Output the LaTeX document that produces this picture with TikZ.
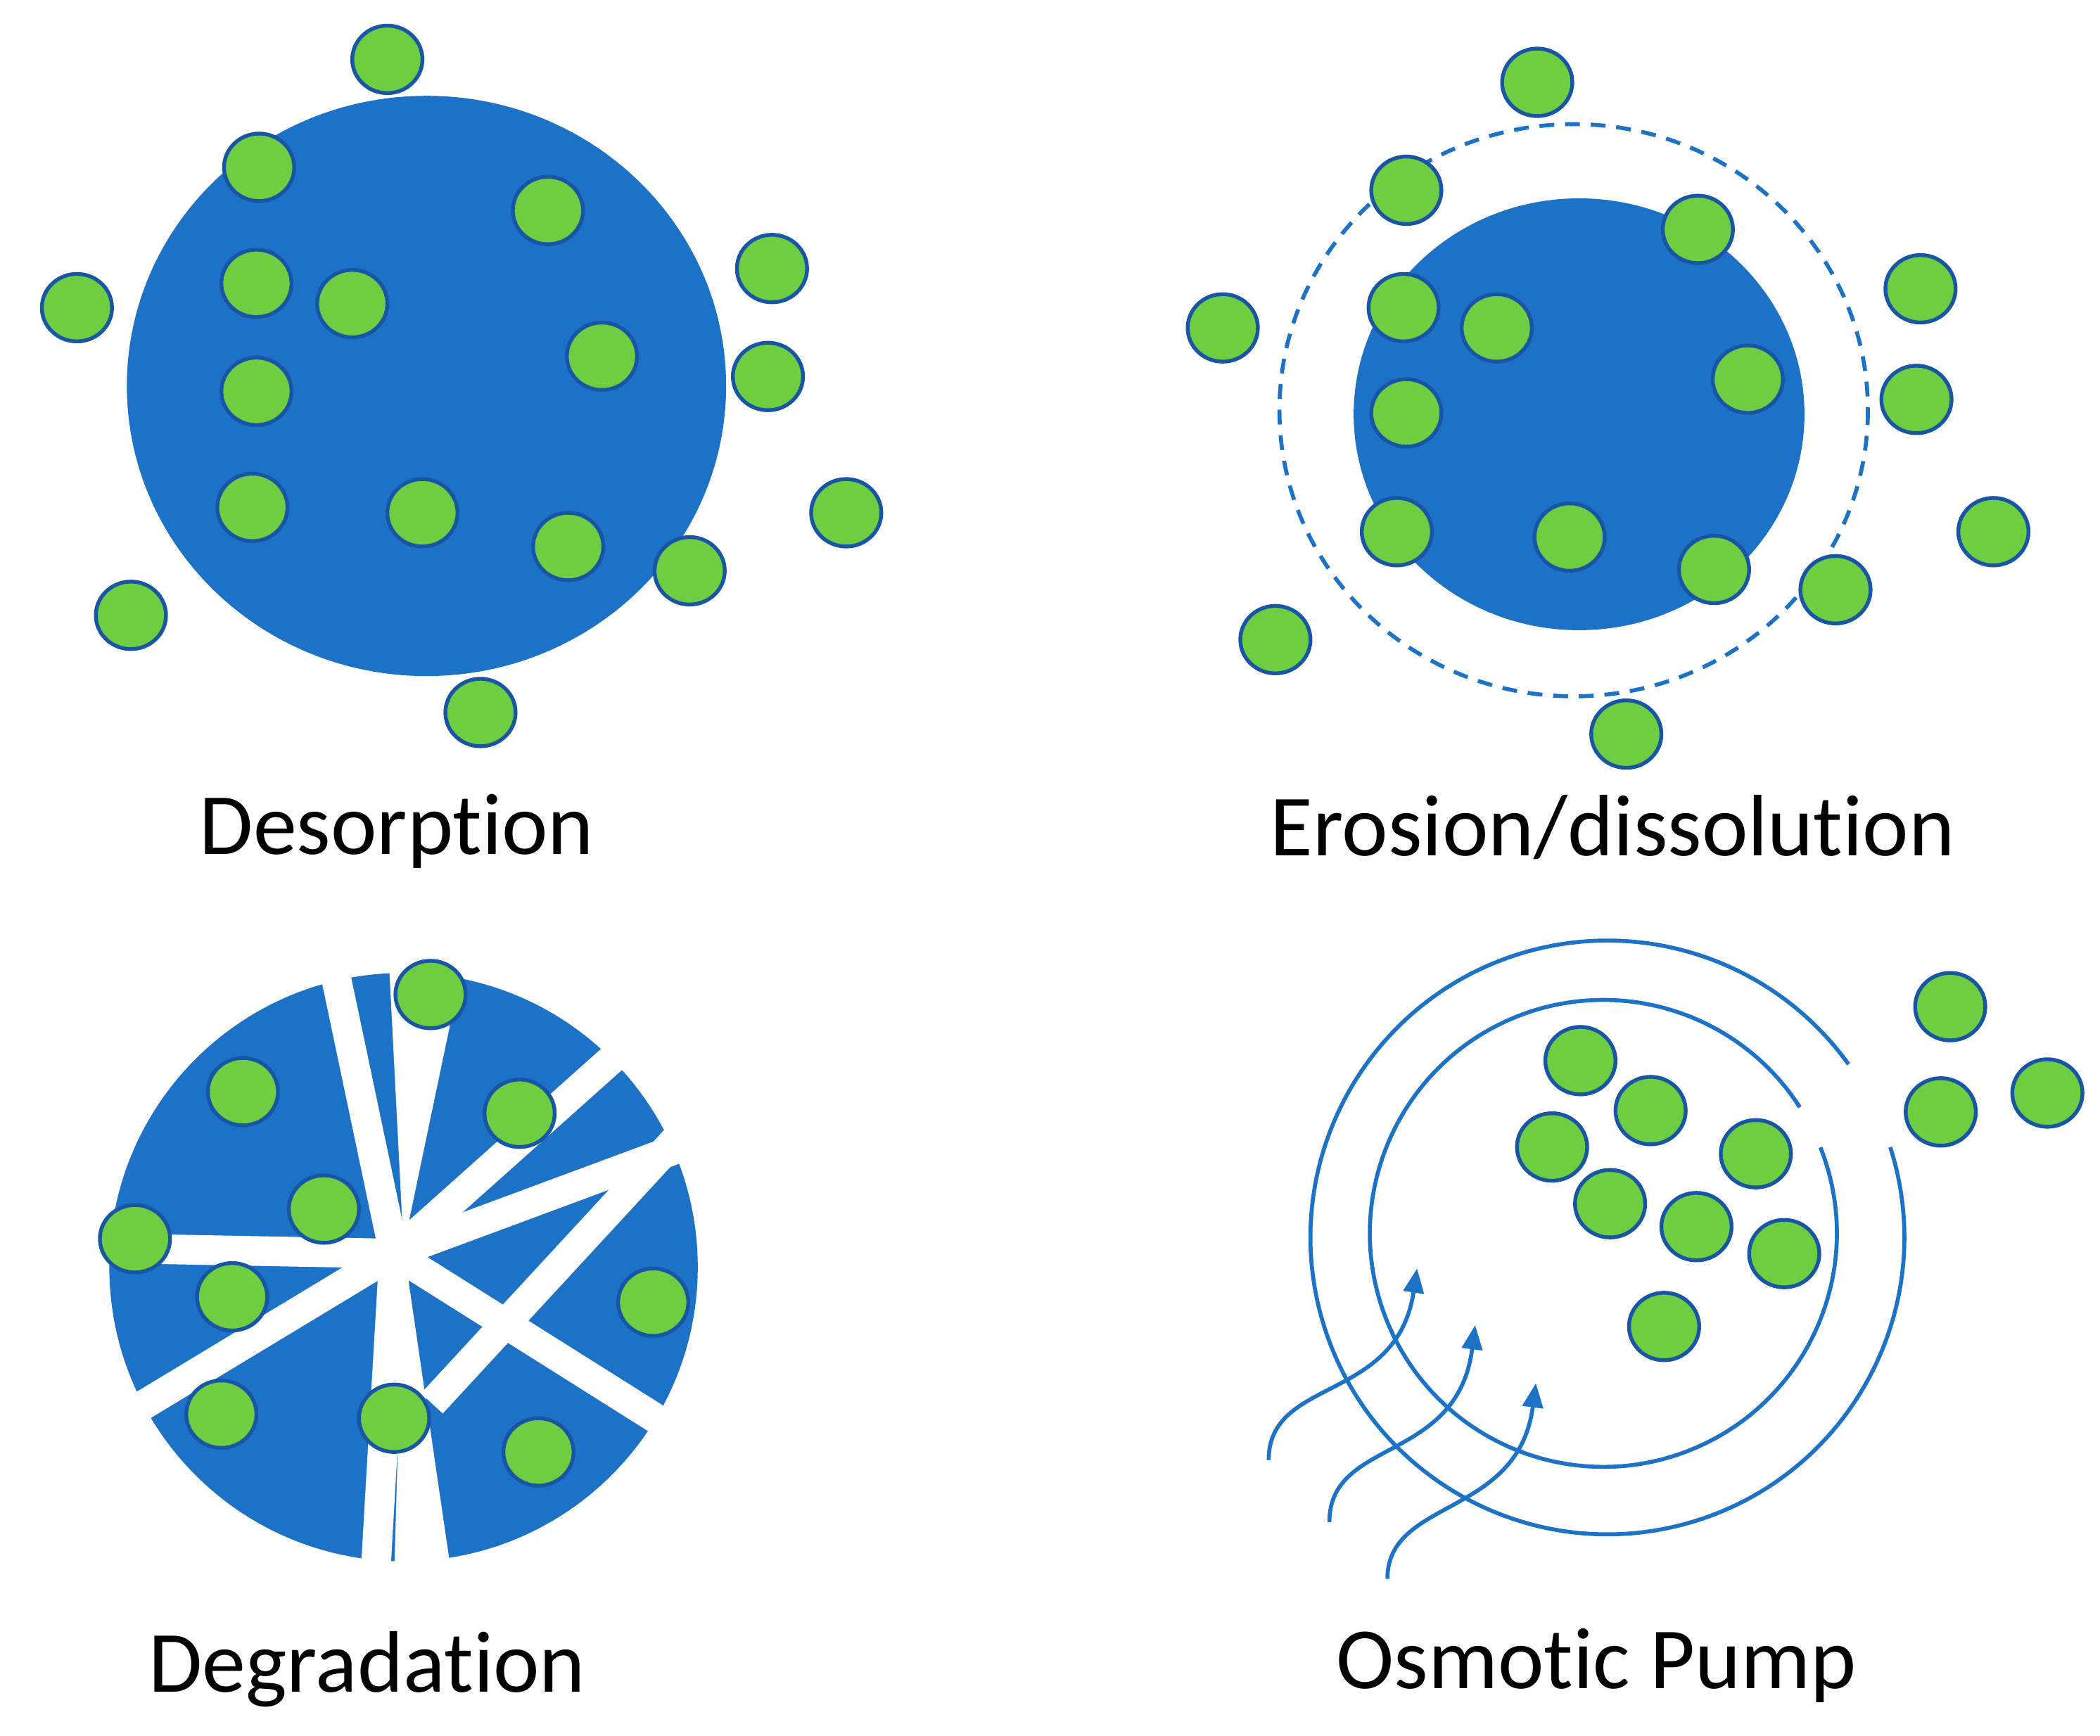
\documentclass[tikz,border=0pt]{standalone}
\usepackage{fontspec}
\setmainfont{Carlito}[Ligatures=NoCommon]
\usetikzlibrary{arrows.meta}
\definecolor{bblue}{RGB}{27,114,198}
\definecolor{dgreen}{RGB}{110,205,65}
\definecolor{dedge}{RGB}{25,85,165}
\tikzset{
  dot/.style={fill=dgreen,draw=dedge,line width=4pt},
  crack/.style={draw=white,line width=1.1cm},
  lbl/.style={font=\fontsize{92}{104}\selectfont,inner sep=0pt},
  ring/.style={draw=bblue,line width=4.2pt},
}
\newcommand{\gdot}[2]{\fill[dot] (#1,#2) ellipse (26 and 25);}
\begin{document}
\begin{tikzpicture}[x=0.05cm,y=-0.05cm]
\useasboundingbox[fill=white] (0,0) rectangle (1556,1286);
% Desorption
\fill[bblue] (316,286) ellipse (222 and 215);
\foreach \x/\y in {287/44,192/124,406/156,572/199,57/228,190/210,261/225,446/264,569/279,190/290,187/376,313/380,421/405,511/423,627/380,97/456,356/528}{\gdot{\x}{\y}}
\node[lbl] (l1) at (294,616) {Desorption};
% Erosion
\draw[bblue,line width=4.2pt,dash pattern=on 0.55cm off 0.4cm] (1166,304) ellipse (218 and 212);
\fill[bblue] (1170,307) ellipse (167 and 160);
\foreach \x/\y in {1139/61,1042/141,1258/170,1423/214,906/243,1040/228,1109/243,1295/281,1420/296,1042/306,1035/394,1163/398,1270/422,1360/437,1477/394,945/474,1205/544}{\gdot{\x}{\y}}
\node[lbl] (l2) at (1195,613) {Erosion/dissolution};
% Degradation
\fill[bblue] (299,939) circle (218);
\coordinate (c) at (292,929);
\foreach \x/\y in {247/715,470/770,505/850,80/925,100/1045,500/1060,278/1170}{\draw[crack] (c) -- (\x,\y);}
\draw[crack] (320,1040) -- (500,845);
\fill[white] (287,690) -- (348,690) -- (299,924) -- cycle;
\fill[white] (292,1170) -- (335,1170) -- (299,924) -- cycle;
\fill[white] (0,1160) -- (600,1160) -- (600,1200) -- (0,1200) -- cycle;
\foreach \x/\y in {319/737,180/809,385/825,240/896,100/918,172/961,484/965,164/1048,292/1051,399/1076}{\gdot{\x}{\y}}
\node[lbl] (l3) at (272,1237) {Degradation};
% Osmotic pump
\draw[ring] (1191,917) ++(-17.7:220) arc[start angle=-17.7,end angle=324.3,radius=220];
\draw[ring] (1188,914) ++(-21.6:173) arc[start angle=-21.6,end angle=327.3,radius=173];
\draw[ring,-{Triangle[length=0.9cm,width=0.75cm]}] (940,1082) .. controls (940,1020) and (1035,1040) .. (1050,940);
\draw[ring,-{Triangle[length=0.9cm,width=0.75cm]}] (985,1128) .. controls (985,1065) and (1080,1085) .. (1093,982);
\draw[ring,-{Triangle[length=0.9cm,width=0.75cm]}] (1028,1170) .. controls (1028,1110) and (1125,1125) .. (1138,1025);
\foreach \x/\y in {1445/746,1171/786,1223/823,1150/850,1301/855,1438/824,1517/810,1193/892,1257/909,1322/929,1233/983}{\gdot{\x}{\y}}
\node[lbl] (l4) at (1183,1234) {Osmotic Pump};
\end{tikzpicture}
\end{document}
